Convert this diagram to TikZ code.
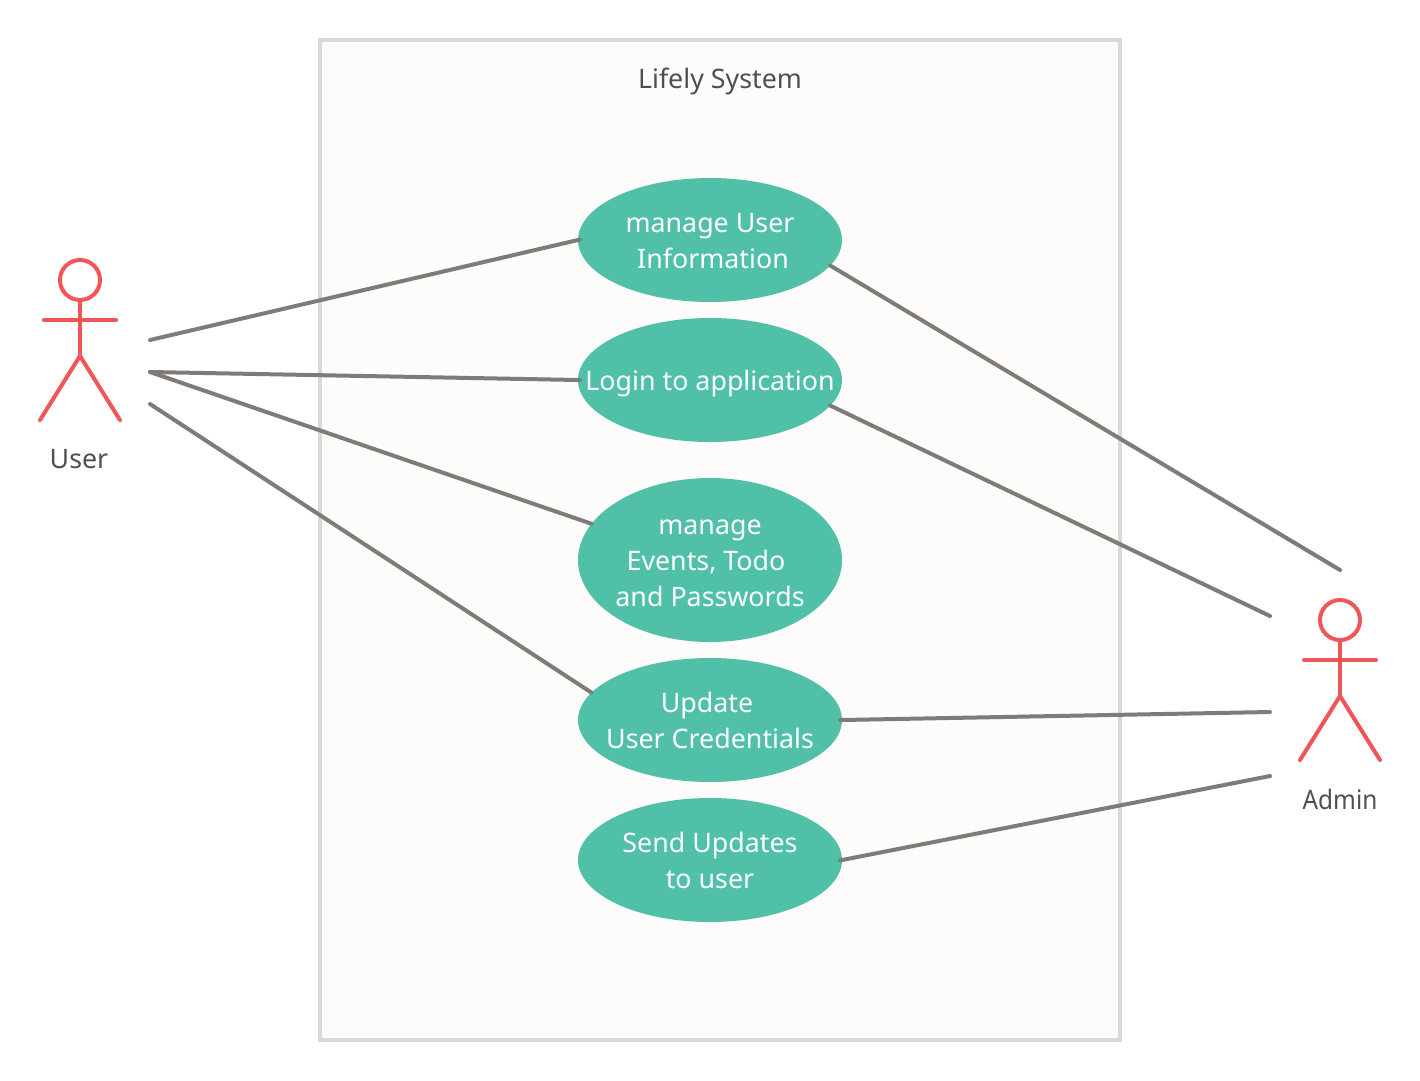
\documentclass[tikz,border=0pt]{standalone}
\usepackage{fontspec}
\setmainfont{Noto Sans}
\usetikzlibrary{shapes.geometric}
\definecolor{teal}{HTML}{51C0A9}
\definecolor{redact}{HTML}{F05558}
\definecolor{grayline}{HTML}{7F7B78}
\definecolor{txt}{HTML}{4F4F4F}
\definecolor{sysfill}{HTML}{FDFCFA}
\definecolor{sysline}{HTML}{D9D9D9}
\tikzset{
  usecase/.style={ellipse,fill=teal,draw=none,minimum width=264pt,inner sep=0pt,outer sep=0pt},
  uctext/.style={text=white,font=\fontsize{26.8}{36}\selectfont,align=center,inner sep=0pt},
  conn/.style={draw=grayline,line width=4pt,line cap=round},
  connr/.style={conn,shorten <=-2pt},
  connl/.style={conn,shorten >=-2pt},
  limb/.style={draw=redact,line width=4pt,line cap=round,line join=round},
  head/.style={circle,draw=redact,line width=4pt,minimum size=40pt,inner sep=0pt,outer sep=0pt},
  actortext/.style={text=txt,font=\fontsize{26.8}{36}\selectfont,inner sep=0pt},
}
\begin{document}
\begin{tikzpicture}[x=1pt,y=-1pt]
\useasboundingbox (0,0) rectangle (1420,1080);
\node[draw=sysline,fill=sysfill,line width=4pt,minimum width=800pt,minimum height=1000pt,inner sep=0pt,outer sep=0pt] (system) at (720,540) {};
\node[actortext] (title) at (720,81) {Lifely System};
\coordinate (u1) at (150,340);
\coordinate (u2) at (150,372);
\coordinate (u3) at (150,404);
\coordinate (a1) at (1340,570);
\coordinate (a2) at (1270,616);
\coordinate (a3) at (1270,712);
\coordinate (a4) at (1270,776);
% use cases
\node[usecase,minimum height=124pt,label={[uctext,name=t1,yshift=-1pt]center:manage User\\\hspace*{6pt}Information}] (m1) at (710,240) {};
\node[usecase,minimum height=124pt,label={[uctext,name=t2,yshift=-4pt]center:Login to application}] (m2) at (710,380) {};
\node[usecase,minimum height=164pt,label={[uctext,name=t3,yshift=-3pt]center:manage\\Events, Todo\mbox{}\hspace*{8pt}\mbox{}\\and Passwords}] (m3) at (710,560) {};
\node[usecase,minimum height=124pt,label={[uctext,name=t4]center:Update\hspace*{6pt}\\User Credentials}] (m4) at (710,720) {};
\node[usecase,minimum height=124pt,label={[uctext,name=t5]center:Send Updates\\to user}] (m5) at (710,860) {};
\draw[connl] (u1) -- (m1.west);
\draw[connl] (u2) -- (m2.west);
\draw[conn] (u2) -- (m3.163.4);
\draw[conn] (u3) -- (m4.167.5);
\draw[conn] (m1.-12) -- (a1);
\draw[conn] (m2.-12) -- (a2);
\draw[connr] (m4.east) -- (a3);
\draw[connr] (m5.east) -- (a4);
% user actor
\node[head] (uh) at (80,280) {};
\coordinate (uhip) at (80,356);
\coordinate (ularm) at (44,320);
\coordinate (urarm) at (116,320);
\coordinate (ulfoot) at (40,420);
\coordinate (urfoot) at (120,420);
\draw[limb] (uh.south) -- (uhip);
\draw[limb] (ularm) -- (urarm);
\draw[limb] (ulfoot) -- (uhip) -- (urfoot);
\node[actortext] (ul) at (79,459) {User};
% admin actor
\node[head] (ah) at (1340,620) {};
\coordinate (ahip) at (1340,696);
\coordinate (alarm) at (1304,660);
\coordinate (ararm) at (1376,660);
\coordinate (alfoot) at (1300,760);
\coordinate (arfoot) at (1380,760);
\draw[limb] (ah.south) -- (ahip);
\draw[limb] (alarm) -- (ararm);
\draw[limb] (alfoot) -- (ahip) -- (arfoot);
\node[actortext] (al) at (1340,799) {\scalebox{0.91}[1]{Admin}};
\end{tikzpicture}
\end{document}
